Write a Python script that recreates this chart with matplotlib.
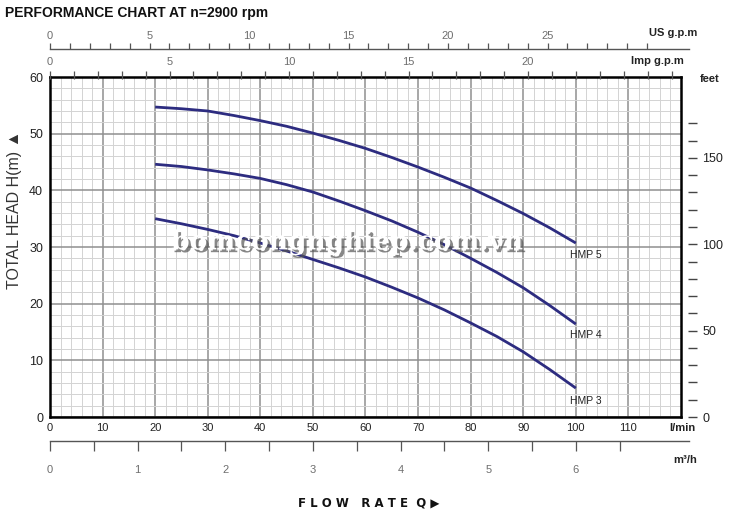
import numpy as np
import matplotlib
matplotlib.use("Agg")
import matplotlib.pyplot as plt
import matplotlib.patheffects as pe
from matplotlib.ticker import MultipleLocator

# flow points (l/min) and head (m)
flow = [20, 25, 30, 35, 40, 45, 50, 55, 60, 65, 70, 75, 80, 85, 90, 95, 100]
hmp5 = [54.7, 54.4, 54.0, 53.2, 52.3, 51.3, 50.1, 48.8, 47.4, 45.8, 44.1, 42.3, 40.4, 38.2, 35.9, 33.4, 30.7]
hmp4 = [44.6, 44.2, 43.6, 42.9, 42.1, 41.0, 39.7, 38.1, 36.4, 34.6, 32.6, 30.4, 28.0, 25.5, 22.8, 19.7, 16.4]
hmp3 = [35.0, 34.1, 33.1, 32.0, 30.7, 29.3, 27.8, 26.3, 24.7, 22.9, 21.0, 18.9, 16.6, 14.2, 11.5, 8.4, 5.1]
curve_names = ["HMP 5", "HMP 4", "HMP 3"]
label_heads = [28.6, 14.5, 2.8]

x_ticks = list(range(0, 120, 10))
y_ticks = list(range(0, 70, 10))
feet_ticks = list(range(0, 180, 10))
feet_labels = [0, 50, 100, 150]
us_ticks = list(range(0, 31))
us_labels = [0, 5, 10, 15, 20, 25]
imp_ticks = list(range(0, 27))
imp_labels = [0, 5, 10, 15, 20]
m3h_ticks = [i * 0.5 for i in range(14)]

W, H = 731, 515
LPM_US = 3.785
LPM_IMP = 4.546
LPM_M3H = 16.667

navy = "#2d2c80"
dark = "#222222"
grey_txt = "#6e6e6e"
sans = ["Liberation Sans", "DejaVu Sans"]
plt.rcParams["font.family"] = sans

fig = plt.figure(figsize=(W / 100, H / 100), dpi=100)

# pixel geometry of main plot
x0, x1 = 50, 681
y_top, y_bot = 77, 417
px_per_lpm = (x1 - x0) / 120.0

def fx(px):
    return px / W

def fy(py):
    return 1 - py / H

ax = fig.add_axes([fx(x0), fy(y_bot), fx(x1 - x0), (y_bot - y_top) / H])
ax.set_xlim(0, 120)
ax.set_ylim(0, 60)
ax.xaxis.set_minor_locator(MultipleLocator(2))
ax.yaxis.set_minor_locator(MultipleLocator(2))
ax.set_xticks(x_ticks)
ax.set_yticks(y_ticks)
ax.grid(which="minor", color="#d3d3d3", lw=0.7)
ax.grid(which="major", color="#8f8f8f", lw=1.1)
ax.tick_params(which="both", length=0)
ax.tick_params(axis="x", labelsize=8, colors=dark, pad=4)
ax.tick_params(axis="y", labelsize=9, colors=dark, pad=5)
for s in ax.spines.values():
    s.set_linewidth(1.8)
    s.set_color("black")
ax.set_axisbelow(True)

for head, name, ly in zip([hmp5, hmp4, hmp3], curve_names, label_heads):
    ax.plot(flow, head, color=navy, lw=2.0, solid_capstyle="butt")
    ax.text(98.9, ly, name, fontsize=7.5, color=dark, va="center", ha="left")

# watermark
ax.text(56.5, 30.9, "bomcongnghiep.com.vn", fontsize=19, family="DejaVu Serif",
        fontweight="bold", color="white", ha="center", va="center", zorder=5,
        path_effects=[pe.withSimplePatchShadow(offset=(2, -2), shadow_rgbFace="#555555", alpha=0.7)])

# feet axis on right
axf = ax.twinx()
axf.set_ylim(0, 60 / 0.3048)
axf.set_yticks(feet_ticks)
axf.set_yticklabels([str(t) if t in feet_labels else "" for t in feet_ticks])
for s in axf.spines.values():
    s.set_visible(False)
axf.spines["right"].set_position(("outward", 5))
axf.tick_params(axis="y", direction="out", length=6.5, width=1.0, color="#444444",
                labelsize=9, labelcolor=dark, pad=4)

# US gpm strip
us_right = 689
ax_us = fig.add_axes([fx(x0), fy(49.3), fx(us_right - x0), 0])
ax_us.set_xlim(0, (us_right - x0) / px_per_lpm / LPM_US)
ax_us.set_xticks(us_labels)
ax_us.set_xticks(us_ticks, minor=True)
ax_us.set_yticks([])
for k in ["top", "left", "right"]:
    ax_us.spines[k].set_visible(False)
ax_us.spines["bottom"].set_color("#555555")
ax_us.spines["bottom"].set_linewidth(1.0)
ax_us.tick_params(which="both", direction="in", bottom=True, top=False, length=4.5,
                  width=0.9, color="#555555", labelbottom=False, labeltop=True,
                  labelsize=8, labelcolor=grey_txt, pad=6)

# Imp gpm ticks above main plot
imp_right = x1
ax_imp = fig.add_axes([fx(x0), fy(78.5), fx(imp_right - x0), 0])
ax_imp.set_xlim(0, (imp_right - x0) / px_per_lpm / LPM_IMP)
ax_imp.set_xticks(imp_labels)
ax_imp.set_xticks(imp_ticks, minor=True)
ax_imp.set_yticks([])
for s in ax_imp.spines.values():
    s.set_visible(False)
ax_imp.tick_params(which="both", direction="in", bottom=True, top=False, length=5.5,
                   width=0.9, color="#555555", labelbottom=False, labeltop=True,
                   labelsize=8, labelcolor=grey_txt, pad=8)

# m3/h strip below
m3_right = 689
ax_m3 = fig.add_axes([fx(x0), fy(441), fx(m3_right - x0), 0])
ax_m3.set_xlim(0, (m3_right - x0) / px_per_lpm / LPM_M3H)
ax_m3.set_xticks([t for t in m3h_ticks if t == int(t)])
ax_m3.set_xticks(m3h_ticks, minor=True)
ax_m3.set_yticks([])
for k in ["top", "left", "right"]:
    ax_m3.spines[k].set_visible(False)
ax_m3.spines["bottom"].set_color("#555555")
ax_m3.spines["bottom"].set_linewidth(1.0)
ax_m3.tick_params(which="both", direction="out", length=7, width=0.9, color="#555555",
                  labelsize=8, labelcolor=grey_txt, pad=10)

# texts
fig.text(fx(5), fy(13), "PERFORMANCE CHART AT n=2900 rpm",
         fontweight="bold", fontsize=10, color="#111111", va="center", ha="left")
fig.text(fx(697), fy(33), "US g.p.m", fontweight="bold", fontsize=8,
         color=dark, ha="right", va="center")
fig.text(fx(684), fy(61), "Imp g.p.m", fontweight="bold", fontsize=8,
         color=dark, ha="right", va="center")
fig.text(fx(700), fy(79), "feet", fontweight="bold", fontsize=8,
         color=dark, ha="left", va="center")
fig.text(fx(695), fy(428), "l/min", fontweight="bold", fontsize=8,
         color=dark, ha="right", va="center")
fig.text(fx(697), fy(460), "m³/h", fontweight="bold", fontsize=8,
         color=dark, ha="right", va="center")
fig.text(fx(15), fy(210), "TOTAL HEAD H(m) \u25B2", rotation=90, fontsize=11.5,
         color="#333333", ha="center", va="center")
fig.text(fx(369), fy(503), "F L O W   R A T E  Q \u25B6", fontweight="bold", fontsize=8.5,
         family="DejaVu Sans", color="#111111", ha="center", va="center")

fig.savefig("out.png", dpi=100)
